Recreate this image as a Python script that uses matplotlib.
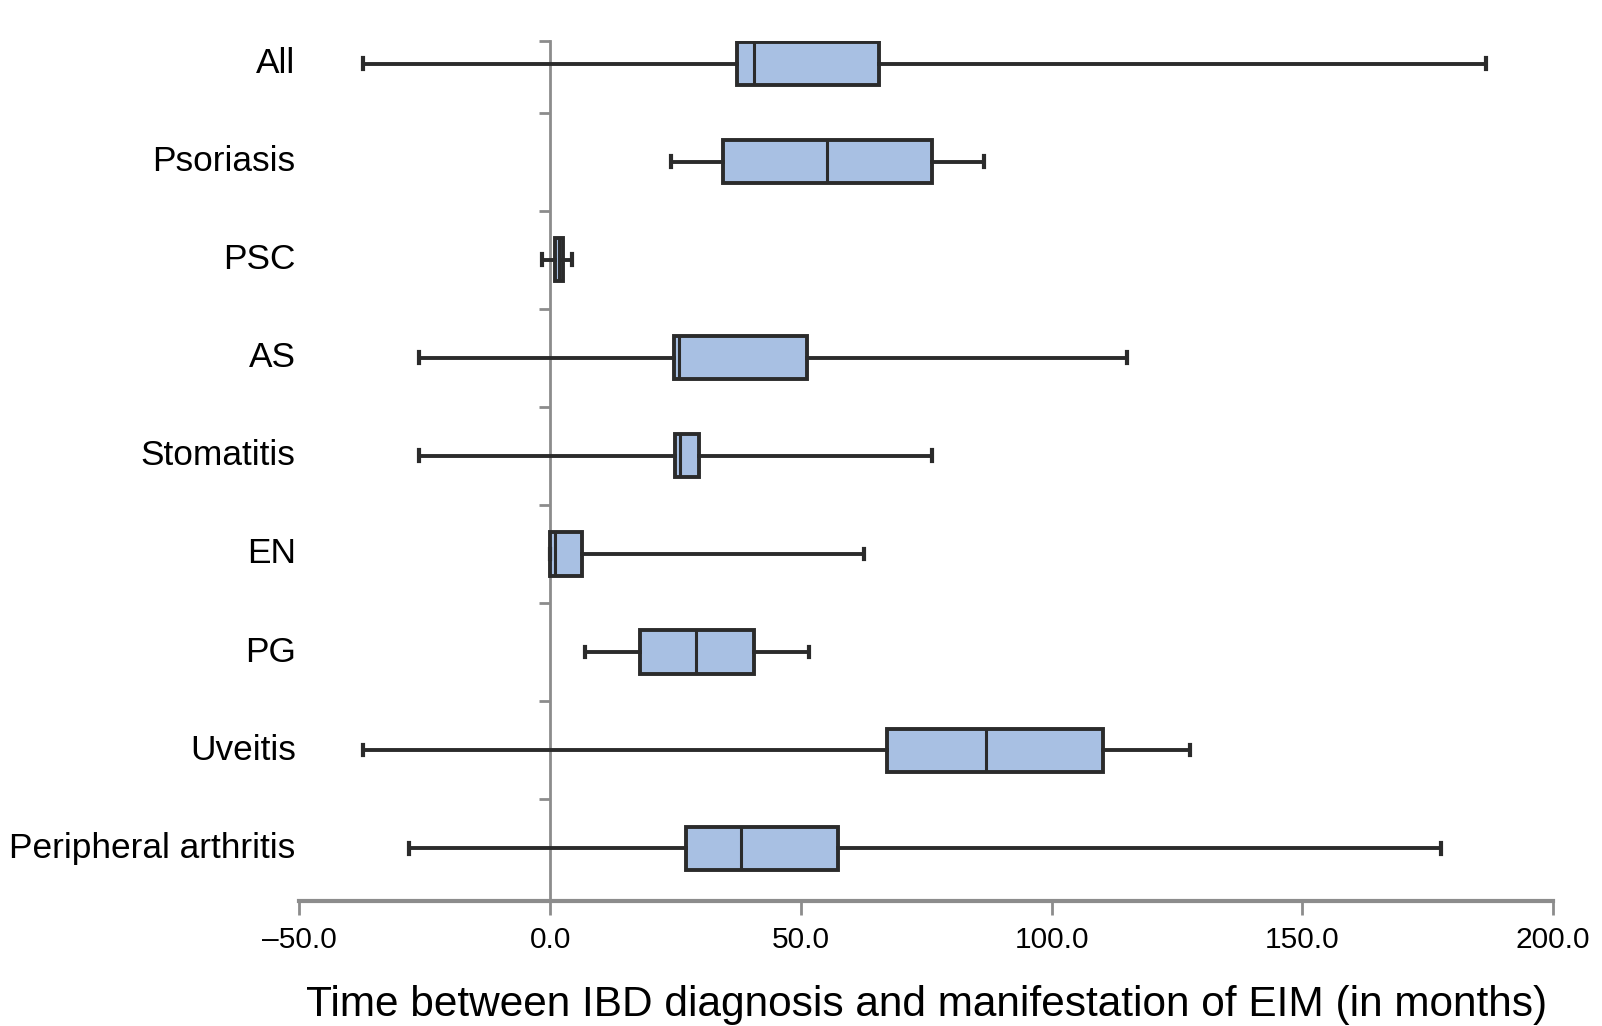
import matplotlib.pyplot as plt
import numpy as np

# categories top to bottom
categories = ['All', 'Psoriasis', 'PSC', 'AS', 'Stomatitis', 'EN', 'PG', 'Uveitis',
              'Peripheral arthritis']
whisker_low = [-37.4, 24.1, -1.7, -26.2, -26.2, 0.0, 7.0, -37.4, -28.2]
q1 = [37.2, 34.5, 1.0, 24.8, 25.0, 0.0, 18.0, 67.2, 27.0]
median = [40.7, 55.3, 1.8, 25.8, 26.0, 1.0, 29.0, 86.9, 38.0]
q3 = [65.5, 76.1, 2.6, 51.2, 29.7, 6.4, 40.7, 110.2, 57.4]
whisker_high = [186.7, 86.5, 4.3, 115.0, 76.1, 62.5, 51.7, 127.7, 177.6]

xticks = [-50, 0, 50, 100, 150, 200]
xlabel = 'Time between IBD diagnosis and manifestation of EIM (in months)'

plt.rcParams['font.family'] = ['Liberation Sans', 'DejaVu Sans']

fig = plt.figure(figsize=(16.02, 10.26), dpi=100)
ax = fig.add_axes([0.1869, 0.1215, 0.9694 - 0.1869, 0.960 - 0.1215])

n = len(categories)
pos = np.arange(n)[::-1]  # All at top
stats = []
for i in range(n):
    stats.append(dict(label=categories[i], whislo=whisker_low[i], q1=q1[i], med=median[i],
                      q3=q3[i], whishi=whisker_high[i], fliers=[]))

edge = '#2b2b2b'
ax.bxp(stats, positions=pos, orientation='horizontal', widths=0.44, capwidths=0.11,
       showfliers=False, patch_artist=True, zorder=3,
       boxprops=dict(facecolor='#a8c0e3', edgecolor=edge, linewidth=2.8),
       medianprops=dict(color=edge, linewidth=2.2),
       whiskerprops=dict(color=edge, linewidth=2.8),
       capprops=dict(color=edge, linewidth=3.0))

ax.set_xlim(-50, 200)
ax.set_ylim(-0.542, 8.229)

gray = '#8c8c8c'
for s in ['top', 'right']:
    ax.spines[s].set_visible(False)
ax.spines['left'].set_position(('data', 0))
ax.spines['left'].set_color(gray)
ax.spines['left'].set_linewidth(2)
ax.spines['bottom'].set_color(gray)
ax.spines['bottom'].set_linewidth(3)

ax.set_yticks(list(np.arange(0.5, n - 1, 1.0)) + [8.229])
ax.tick_params(axis='y', length=8, width=2, color=gray, labelleft=False)
for i in range(n):
    ax.text(-0.003, pos[i], categories[i], transform=ax.get_yaxis_transform(),
            ha='right', va='center', fontsize=25.4)

ax.set_xticks(xticks)
ax.set_xticklabels(['%.1f' % v if v >= 0 else '\u2013%.1f' % -v for v in xticks])
ax.tick_params(axis='x', length=10, width=2, color=gray, labelsize=21.5, pad=8)
ax.set_xlabel(xlabel, fontsize=30.5, labelpad=22)

fig.savefig('out.png', dpi=100)
